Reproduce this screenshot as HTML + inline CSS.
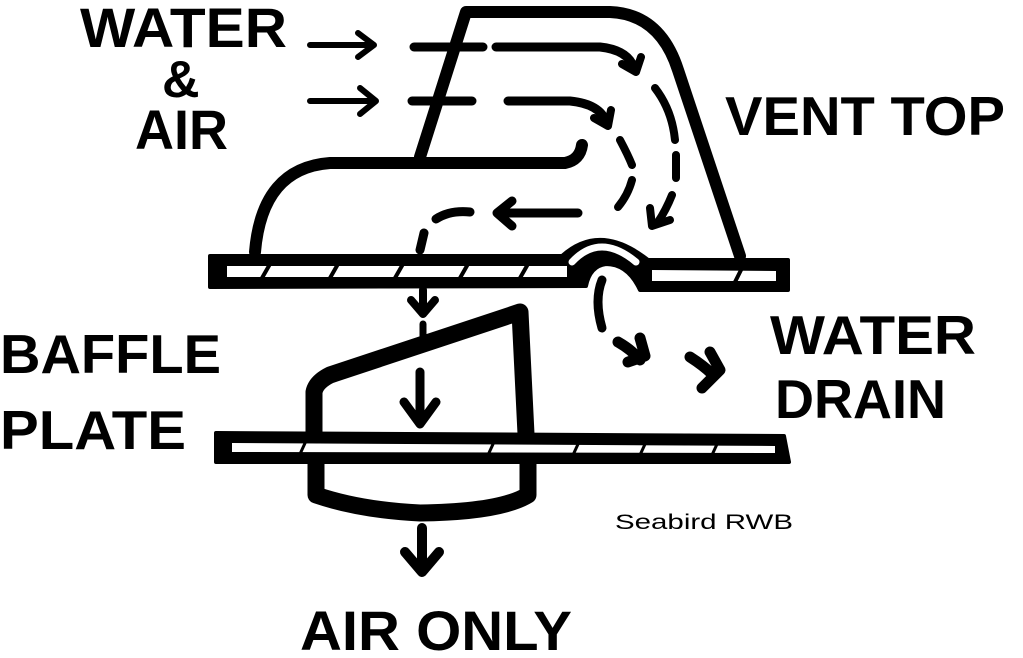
<!DOCTYPE html>
<html><head><meta charset="utf-8"><style>
html,body{margin:0;padding:0;background:#fff}
svg{display:block}
text{font-family:"Liberation Sans",sans-serif;font-weight:bold;fill:#000}
</style></head><body>
<svg width="1023" height="658" viewBox="0 0 1023 658" xmlns="http://www.w3.org/2000/svg">
<g fill="none" stroke="#000" stroke-linecap="round" stroke-linejoin="round">
<path d="M420 157 L466 12 L610 12 Q660 14 678 70 L740 256" stroke-width="12"/>
<path d="M255 252 Q262 168 330 163 L565 163 Q580 160 582 145" stroke-width="12"/>
<path d="M210 256 L562 256 Q600 222 648 260 L788 260 L788 290 L640 290 Q628 264 606 264 Q590 266 586 286 L210 287 Z" stroke-width="4" fill="#000"/>
<path d="M227 266 L567 266 L567 277 L227 277 Z" stroke="none" fill="#fff"/>
<path d="M652 270 L776 271 L776 281 L652 281 Z" stroke="none" fill="#fff"/>
<path d="M572 262 Q600 232 636 262" stroke="#fff" stroke-width="7"/>
<path d="M262 278 L270 264 M330 278 L338 264 M395 278 L403 264 M460 278 L468 264 M520 278 L528 264 M735 282 L742 268" stroke-width="4"/>
<path d="M602 280 Q594 300 602 328" stroke-width="9"/>
<path d="M310 45 L372 45 M358 33 L374 45 L358 57" stroke-width="6"/>
<path d="M310 101 L374 101 M360 88 L376 101 L360 114" stroke-width="6"/>
<path d="M414 47 L483 47 M496 47 L600 47 Q628 50 634 68" stroke-width="9"/>
<path d="M622 64 L636 72 L641 57" stroke-width="8"/>
<path d="M412 101 L472 101 M508 101 L570 101 Q600 104 606 122" stroke-width="9"/>
<path d="M594 118 L608 126 L611 110" stroke-width="8"/>
<path d="M655 88 Q672 110 675 140 M676 155 L676 178 M672 195 Q666 210 658 222" stroke-width="8" />
<path d="M650 208 L652 226 L670 220" stroke-width="8"/>
<path d="M620 140 Q628 155 632 165 M632 180 Q628 195 618 207" stroke-width="8"/>
<path d="M578 213 L498 213 M512 201 L497 213 L512 226" stroke-width="9"/>
<path d="M470 212 Q450 210 436 219 M424 233 L420 250" stroke-width="9"/>
<path d="M423 290 L423 312 M411 300 L423 314 L435 300" stroke-width="8"/>
<path d="M423 324 L423 338" stroke-width="7"/>
<path d="M314 435 L314 392 Q316 382 330 375 L520 312 L526 434" stroke-width="17"/>
<path d="M216 433 L784 436 L789 462 L216 462 Z" stroke-width="4" fill="#000"/>
<path d="M232 443 L775 446 L775 453 L232 452 Z" stroke="none" fill="#fff"/>
<path d="M300 454 L306 441 M488 455 L494 442 M573 455 L579 442 M640 455 L646 442 M712 455 L718 442" stroke-width="3"/>
<path d="M316 462 L316 495 Q360 510 420 513 Q500 512 528 495 L528 462" stroke-width="17"/>
<path d="M420 372 L420 422 M404 402 L420 424 L436 402" stroke-width="9"/>
<path d="M422 528 L422 570 M405 552 L422 572 L439 552" stroke-width="10"/>
<path d="M618 342 Q632 350 640 360 M628 362 L645 356 L640 338" stroke-width="11"/>
<path d="M690 357 Q704 366 712 374 M702 388 L720 370 L710 352" stroke-width="11"/>
</g>
<text x="80" y="47" font-size="56" textLength="207" lengthAdjust="spacingAndGlyphs">WATER</text>
<text x="162" y="97" font-size="52">&amp;</text>
<text x="135" y="149" font-size="56" textLength="93" lengthAdjust="spacingAndGlyphs">AIR</text>
<text x="725" y="135" font-size="55" textLength="280" lengthAdjust="spacingAndGlyphs">VENT TOP</text>
<text x="770" y="354" font-size="55" textLength="206" lengthAdjust="spacingAndGlyphs">WATER</text>
<text x="775" y="418" font-size="55" textLength="171" lengthAdjust="spacingAndGlyphs">DRAIN</text>
<text x="0" y="373" font-size="55" textLength="221" lengthAdjust="spacingAndGlyphs">BAFFLE</text>
<text x="0" y="449" font-size="55" textLength="186" lengthAdjust="spacingAndGlyphs">PLATE</text>
<text x="300" y="650" font-size="56" textLength="272" lengthAdjust="spacingAndGlyphs">AIR ONLY</text>
<text x="615" y="529" font-size="21" style="font-weight:normal" textLength="178" lengthAdjust="spacingAndGlyphs">Seabird RWB</text>
</svg>
</body></html>
